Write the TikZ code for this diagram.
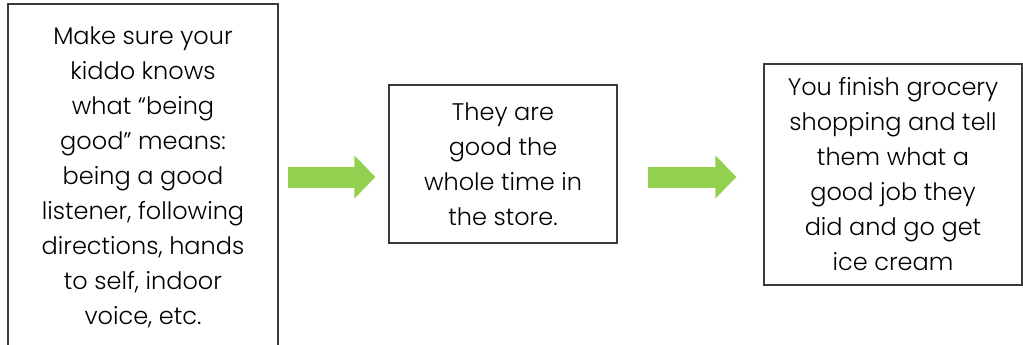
\documentclass[tikz,border=0pt]{standalone}
\usepackage{fontspec}
\setmainfont{Poppins Light}
\usetikzlibrary{arrows.meta,positioning}
\definecolor{edge}{HTML}{3A3A3A}
\definecolor{leaf}{HTML}{92D050}
\tikzset{
  box/.style={draw=edge, line width=1.3pt, fill=white, align=center, inner sep=0pt,
    font=\fontsize{24}{35}\selectfont},
  flow/.style={-{Triangle[length=21pt, width=42pt]}, line width=21pt, leaf},
}

\begin{document}
\begin{tikzpicture}[x=1pt, y=-1pt]
        \useasboundingbox (0,0) rectangle (1023,345);
        \node[box, minimum width=270pt, minimum height=346pt] (tell) at (143,177) {Make sure your\\kiddo knows\\what “being\\good” means:\\being a good\\listener, following\\directions, hands\\to self, indoor\\voice, etc.};
        \node[box, minimum width=228pt, minimum height=158pt] (store) at (503,164) {They are\\good the\\whole time in\\the store.};
        \node[box, minimum width=258pt, minimum height=221pt] (treat) at (893,174.5) {You finish grocery\\shopping and tell\\them what a\\good job they\\did and go get\\ice cream};
        \coordinate (mid) at (0,177);
        \draw[flow] ([xshift=9pt]tell.east |- mid) -- ([xshift=-13pt]store.west |- mid);
        \draw[flow] ([xshift=30pt]store.east |- mid) -- ([xshift=-27pt]treat.west |- mid);
      \end{tikzpicture}
\end{document}
